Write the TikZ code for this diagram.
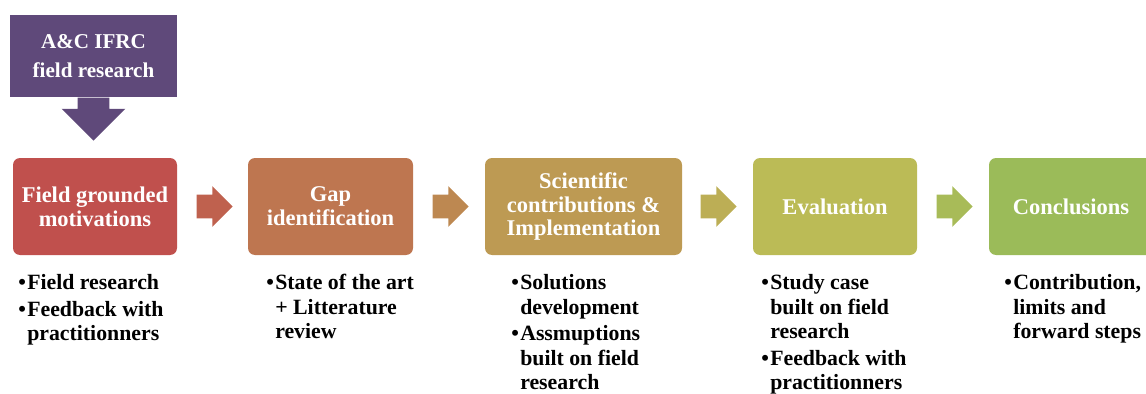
\documentclass[tikz,border=0pt]{standalone}
\usepackage{fontspec}
\setmainfont{Liberation Serif}
\usetikzlibrary{shapes.arrows,calc}

\newlength\unitpx
\setlength\unitpx{0.025cm}

\definecolor{ifrcpurple}{HTML}{5F497A}
\definecolor{stepA}{HTML}{C0504D}
\definecolor{stepB}{HTML}{BE7650}
\definecolor{stepC}{HTML}{BD9A53}
\definecolor{stepD}{HTML}{BBBB56}
\definecolor{stepE}{HTML}{9BBB59}

\tikzset{
  stepbox/.style={rounded corners=7\unitpx, minimum height=97\unitpx, inner sep=0pt,
    text=white, align=center, font=\fontsize{16}{17}\selectfont\bfseries},
  blockarrow/.style={single arrow, inner xsep=0pt, inner ysep=11.5\unitpx, anchor=tail,
    minimum height=36\unitpx, single arrow head extend=8.5\unitpx},
  bullets/.style={anchor=north west, align=left, inner sep=0pt,
    font=\fontsize{15.5}{17.5}\selectfont\bfseries},
}
\newcommand\itembul{\makebox[9\unitpx][l]{\textbullet}}
\newcommand\contindent{\hspace*{9\unitpx}}

\begin{document}
\begin{tikzpicture}[x=0.025cm, y=-0.025cm]
  \useasboundingbox (0,0) rectangle (1146,394);
  % field research input
  \node[stepbox, fill=ifrcpurple, rounded corners=0pt, minimum width=167\unitpx,
    minimum height=82\unitpx, font=\fontsize{15}{21}\selectfont\bfseries] (ifrc) at (93.5,56)
    {A\&C IFRC\\field research};
  \node[blockarrow, rotate=-90, fill=ifrcpurple, minimum height=43\unitpx,
    inner ysep=15.5\unitpx, single arrow head extend=16\unitpx] (down) at (ifrc.south) {};
  % steps
  \node[stepbox, fill=stepA, minimum width=164\unitpx] (motiv) at (95,206.5)
    {Field grounded\\motivations};
  \node[stepbox, fill=stepB, minimum width=165\unitpx] (gap) at (330.5,206.5)
    {Gap\\identification};
  \node[stepbox, fill=stepC, minimum width=197\unitpx] (contrib) at (583.5,206.5)
    {Scientific\\contributions \&\\Implementation};
  \node[stepbox, fill=stepD, minimum width=164\unitpx] (eval) at (835,206.5)
    {Evaluation};
  \node[stepbox, fill=stepE, minimum width=164\unitpx] (concl) at (1071,206.5)
    {Conclusions};
  % arrows between steps
  \node[blockarrow, fill=stepA!55!stepB] (a1) at ($(motiv.east)+(19,0)$) {};
  \node[blockarrow, fill=stepB!50!stepC] (a2) at ($(gap.east)+(19,0)$) {};
  \node[blockarrow, fill=stepC!40!stepD] (a3) at ($(contrib.east)+(18,0)$) {};
  \node[blockarrow, fill=stepD!40!stepE] (a4) at ($(eval.east)+(19,0)$) {};
  % bullet lists
  \node[bullets] (l1) at (18,274)
    {\itembul Field research\\[1.5pt]\itembul Feedback with\\\contindent practitionners};
  \node[bullets] (l2) at (266,274)
    {\itembul State of the art\\\contindent + Litterature\\\contindent review};
  \node[bullets] (l3) at (511,274)
    {\itembul Solutions\\\contindent development\\[1.5pt]\itembul Assmuptions\\\contindent built on field\\\contindent research};
  \node[bullets] (l4) at (761,274)
    {\itembul Study case\\\contindent built on field\\\contindent research\\[1.5pt]\itembul Feedback with\\\contindent practitionners};
  \node[bullets] (l5) at (1004,274)
    {\itembul Contribution,\\\contindent limits and\\\contindent forward steps};
\end{tikzpicture}
\end{document}
